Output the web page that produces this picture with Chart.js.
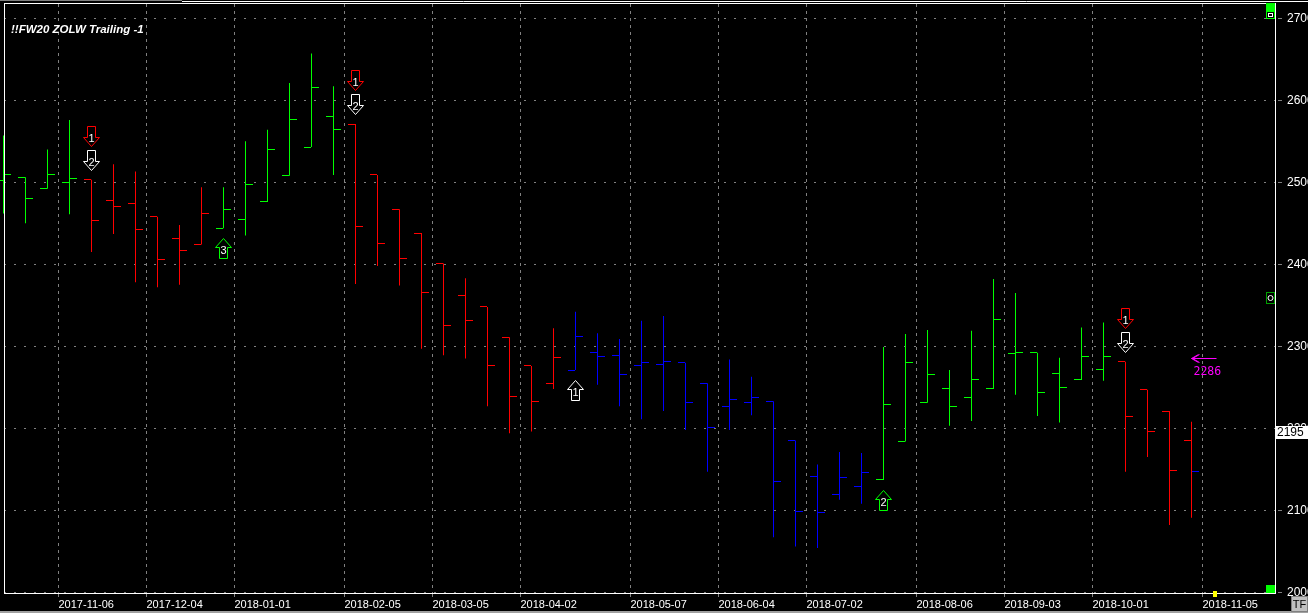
<!DOCTYPE html>
<html>
<head>
<meta charset="utf-8">
<script src="https://cdn.jsdelivr.net/npm/chart.js@4/dist/chart.umd.min.js"></script>
<style>
html,body{margin:0;padding:0;background:#000;overflow:hidden}
#wrap{position:relative;width:1308px;height:613px}
</style>
</head>
<body>
<div id="wrap"><canvas id="c"></canvas></div>
<script>
// ---------- data ----------
const chartTitle = '!!FW20 ZOLW Trailing -1';
const weeks = ['2017-10-16','2017-10-23','2017-10-30','2017-11-06','2017-11-13','2017-11-20','2017-11-27',
 '2017-12-04','2017-12-11','2017-12-18','2017-12-25','2018-01-01','2018-01-08','2018-01-15','2018-01-22',
 '2018-01-29','2018-02-05','2018-02-12','2018-02-19','2018-02-26','2018-03-05','2018-03-12','2018-03-19',
 '2018-03-26','2018-04-02','2018-04-09','2018-04-16','2018-04-23','2018-04-30','2018-05-07','2018-05-14',
 '2018-05-21','2018-05-28','2018-06-04','2018-06-11','2018-06-18','2018-06-25','2018-07-02','2018-07-09',
 '2018-07-16','2018-07-23','2018-07-30','2018-08-06','2018-08-13','2018-08-20','2018-08-27','2018-09-03',
 '2018-09-10','2018-09-17','2018-09-24','2018-10-01','2018-10-08','2018-10-15','2018-10-22','2018-10-29',
 '2018-11-05'];
const openP  = [2502,2506,2492,2500,2503,2478,2474,2458,2431,2424,2444,2455,2476,2508,2543,2580,2571,2509,2467,2438,2401,2362,2348,2311,2276,2255,2271,2292,2289,2277,2278,2280,2255,2227,2231,2233,2185,2141,2119,2129,2137,2184,2231,2248,2237,2248,2291,2292,2267,2259,2272,2281,2247,2221,2185];
const highP  = [2557,2506,2540,2576,2503,2522,2513,2458,2448,2494,2494,2550,2564,2621,2657,2617,2571,2509,2467,2438,2401,2383,2348,2311,2276,2322,2342,2316,2309,2331,2337,2280,2255,2284,2263,2233,2185,2156,2171,2170,2299,2315,2320,2271,2319,2382,2365,2292,2286,2323,2329,2281,2247,2221,2208];
const lowP   = [2462,2450,2492,2461,2415,2437,2378,2372,2375,2424,2444,2435,2476,2508,2543,2509,2376,2398,2374,2297,2289,2285,2227,2194,2196,2248,2271,2253,2227,2211,2221,2198,2147,2198,2216,2067,2056,2054,2113,2108,2137,2184,2231,2203,2209,2248,2241,2215,2207,2259,2258,2147,2165,2082,2091];
const closeP = [2509,2480,2509,2504,2453,2470,2442,2406,2417,2462,2467,2497,2540,2577,2616,2564,2446,2425,2407,2365,2325,2332,2276,2239,2233,2286,2312,2287,2265,2280,2281,2231,2201,2235,2237,2135,2099,2097,2140,2146,2229,2280,2266,2226,2259,2333,2293,2244,2250,2287,2288,2214,2196,2148,2147];
// trend state of each bar: 1 long, -1 short, 0 flat
const trend  = [1,1,1,1,-1,-1,-1,-1,-1,-1,1,1,1,1,1,1,-1,-1,-1,-1,-1,-1,-1,-1,-1,-1,0,0,0,0,0,0,0,0,0,0,0,0,0,0,1,1,1,1,1,1,1,1,1,1,1,-1,-1,-1,-1];
const lastCloseTrend = 0;
const xTickLabels = ['2017-11-06','2017-12-04','2018-01-01','2018-02-05','2018-03-05','2018-04-02','2018-05-07',
 '2018-06-04','2018-07-02','2018-08-06','2018-09-03','2018-10-01','2018-11-05'];
const yTickValues = [2000,2100,2200,2300,2400,2500,2600,2700];
// signals
const signalBars  = [4,4,10,16,16,26,40,51,51];
const signalDirs  = ['down','down','up','down','down','up','up','down','down'];
const signalTypes = ['short','exit','long','short','exit','exit','long','short','exit'];
const signalStack = [1,0,0,1,0,0,0,1,0];
const signalTexts = ['1','2','3','1','2','1','2','1','2'];
const targetLevel = 2286;
const targetBar = 54;
const lastPrice = 2195;

// ---------- styles ----------
const TREND_COLORS = {'1':'#00ff00','-1':'#ff0000','0':'#0000ff'};
const SIGNAL_COLORS = {short:'#ff0000', exit:'#ffffff', long:'#00ff00'};
const FONT = '"Liberation Sans", Arial, sans-serif';

function tickImg(color, side){
  const c = document.createElement('canvas');
  c.width = 15; c.height = 1;
  const g = c.getContext('2d');
  g.fillStyle = color;
  g.fillRect(side === 'open' ? 0 : 8, 0, 7, 1);
  return c;
}
const openImgs = {}, closeImgs = {};
for (const k in TREND_COLORS){ openImgs[k] = tickImg(TREND_COLORS[k],'open'); closeImgs[k] = tickImg(TREND_COLORS[k],'close'); }
const closeTrend = trend.map((t,i) => i === trend.length - 1 ? lastCloseTrend : t);
const idx = openP.map((_, i) => i);

function arrowPath(ctx, cx, tip, d){ // d=1: tip at bottom (down arrow), d=-1: tip at top
  ctx.beginPath();
  ctx.moveTo(cx-4, tip - d*20);
  ctx.lineTo(cx+4, tip - d*20);
  ctx.lineTo(cx+4, tip - d*9);
  ctx.lineTo(cx+8, tip - d*9);
  ctx.lineTo(cx, tip);
  ctx.lineTo(cx-8, tip - d*9);
  ctx.lineTo(cx-4, tip - d*9);
  ctx.closePath();
}

const decor = {
  id: 'decor',
  beforeDatasetsDraw(chart){ chart.ctx.imageSmoothingEnabled = false; },
  afterDatasetsDraw(chart){
    const ctx = chart.ctx, x = chart.scales.x, y = chart.scales.y;
    ctx.save();
    ctx.lineWidth = 1;
    for (let s = 0; s < signalBars.length; s++){
      const i = signalBars[s];
      const cx = x.getPixelForValue(i);
      const color = SIGNAL_COLORS[signalTypes[s]];
      let top;
      if (signalDirs[s] === 'down'){
        const hp = Math.round(y.getPixelForValue(highP[i]));
        const tip = hp - 10 - signalStack[s]*24 + 0.5;
        top = tip - 20;
        arrowPath(ctx, cx, tip, 1);
      } else {
        const lp = Math.round(y.getPixelForValue(lowP[i]));
        const tip = lp + 10 + signalStack[s]*24 + 0.5;
        top = tip;
        arrowPath(ctx, cx, tip, -1);
      }
      ctx.fillStyle = '#000'; ctx.fill();
      ctx.strokeStyle = color; ctx.stroke();
      ctx.fillStyle = '#fff';
      ctx.font = '11px ' + FONT;
      ctx.textAlign = 'center'; ctx.textBaseline = 'middle';
      ctx.fillText(signalTexts[s], cx, top + 12);
    }
    // target arrow
    const tx = x.getPixelForValue(targetBar);
    const ty = Math.round(y.getPixelForValue(targetLevel)) + 0.5;
    ctx.strokeStyle = '#ff00ff';
    ctx.beginPath();
    ctx.moveTo(tx, ty); ctx.lineTo(tx + 25, ty);
    ctx.moveTo(tx + 7, ty - 4); ctx.lineTo(tx, ty); ctx.lineTo(tx + 7, ty + 4);
    ctx.moveTo(tx + 8, ty - 4); ctx.lineTo(tx + 1, ty); ctx.lineTo(tx + 8, ty + 4);
    ctx.stroke();
    ctx.fillStyle = '#ff00ff';
    ctx.font = '11.5px "DejaVu Sans Mono", monospace';
    ctx.textAlign = 'left'; ctx.textBaseline = 'middle';
    ctx.fillText(String(targetLevel), tx + 2, ty + 14);
    ctx.restore();
  },
  afterDraw(chart){
    const ctx = chart.ctx, y = chart.scales.y, a = chart.chartArea;
    ctx.save();
    ctx.imageSmoothingEnabled = true;
    // frame lines
    ctx.strokeStyle = '#ffffff'; ctx.lineWidth = 1;
    ctx.beginPath();
    ctx.moveTo(4.5, a.top); ctx.lineTo(4.5, a.bottom + 1);
    ctx.moveTo(4, 3.5); ctx.lineTo(1276, 3.5);
    ctx.moveTo(182, 1.5); ctx.lineTo(1308, 1.5);
    ctx.stroke();
    ctx.fillStyle = '#808080'; ctx.fillRect(0, 0, 182, 1);
    ctx.fillStyle = '#a0a0a0'; ctx.fillRect(0, 611, 1308, 2);
    // title
    ctx.fillStyle = '#ffffff';
    ctx.font = 'italic bold 11.5px ' + FONT;
    ctx.textAlign = 'left'; ctx.textBaseline = 'middle';
    ctx.fillText(chartTitle, 11, 30);
    // last price box
    const py = Math.round(y.getPixelForValue(lastPrice));
    ctx.fillStyle = '#ffffff';
    ctx.fillRect(1276, py - 6, 32, 13);
    ctx.fillStyle = '#000000';
    ctx.font = '12px ' + FONT;
    ctx.textBaseline = 'middle';
    ctx.fillText(String(lastPrice), 1277, py + 1);
    // right side handles
    ctx.fillStyle = '#00ff00'; ctx.fillRect(1266, 3, 9, 16);
    ctx.fillStyle = '#000'; ctx.fillRect(1267, 12, 7, 6);
    ctx.strokeStyle = '#fff'; ctx.strokeRect(1268.5, 13.5, 4, 3);
    ctx.fillStyle = '#00a000'; ctx.fillRect(1266, 292, 9, 12);
    ctx.fillStyle = '#000'; ctx.fillRect(1267, 293, 7, 10);
    ctx.strokeStyle = '#fff'; ctx.beginPath(); ctx.arc(1270.5, 298, 2.5, 0, Math.PI*2); ctx.stroke();
    ctx.fillStyle = '#00ff00'; ctx.fillRect(1266, 585, 9, 8);
    ctx.fillStyle = '#ffff00'; ctx.fillRect(1213, 591, 4, 6);
    // TF box
    ctx.fillStyle = '#c0c0c0'; ctx.fillRect(1292, 597, 15, 14);
    ctx.strokeStyle = '#808080'; ctx.strokeRect(1291.5, 596.5, 16, 15);
    ctx.fillStyle = '#000'; ctx.font = '11px ' + FONT; ctx.textAlign = 'center';
    ctx.fillText('TF', 1299.5, 604.5);
    ctx.restore();
  }
};

const PX = 22; // pixels per weekly slot
new Chart(document.getElementById('c'), {
  type: 'scatter',
  data: {
    datasets: [
      { type: 'bar', order: 5,
        data: idx.map(i => ({x: i, y: [lowP[i], highP[i]]})),
        backgroundColor: idx.map(i => TREND_COLORS[trend[i]]),
        barThickness: 1, inflateAmount: 0, borderWidth: 0, clip: false },
      { type: 'scatter', order: 1,
        data: idx.map(i => ({x: i, y: openP[i]})),
        pointStyle: idx.map(i => openImgs[trend[i]]),
        pointRadius: 4, pointBorderWidth: 0, clip: false },
      { type: 'scatter', order: 1,
        data: idx.map(i => ({x: i, y: closeP[i]})),
        pointStyle: idx.map(i => closeImgs[closeTrend[i]]),
        pointRadius: 4, pointBorderWidth: 0, clip: false }
    ]
  },
  options: {
    responsive: true, maintainAspectRatio: false, animation: false, events: [],
    layout: { padding: { left: 4, top: 3, right: 0, bottom: 0 } },
    plugins: { legend: { display: false }, tooltip: { enabled: false }, title: { display: false } },
    scales: {
      x: {
        type: 'linear', offset: false, bounds: 'data',
        min: 0.5 / PX, max: 0.5 / PX + 1271 / PX,
        afterBuildTicks: s => { s.ticks = xTickLabels.map(d => ({ value: weeks.indexOf(d) - 0.5 })); },
        afterFit: s => { s.height = 20; s.paddingLeft = 0; s.paddingRight = 0; s.paddingTop = 0; s.paddingBottom = 0; },
        ticks: { autoSkip: false, maxRotation: 0, minRotation: 0, align: 'start', padding: 1,
                 color: '#ffffff', font: { family: FONT, size: 11 },
                 callback: (v, i) => xTickLabels[i] },
        grid: { color: '#808080', lineWidth: 1, offset: false, drawTicks: true, tickLength: 4,
                tickColor: '#808080', tickBorderDash: [3, 4], borderDash: [3, 4] },
        border: { display: true, color: '#ffffff', width: 1, dash: [3, 4] }
      },
      y: {
        type: 'linear', position: 'right', beginAtZero: false,
        min: 1999.15, max: 2717.4,
        afterBuildTicks: s => { s.ticks = yTickValues.map(v => ({ value: v })); },
        afterFit: s => { s.width = 33; s.paddingTop = 0; s.paddingBottom = 0; s.paddingLeft = 0; s.paddingRight = 0; },
        ticks: { color: '#ffffff', padding: 5, font: { family: FONT, size: 12 }, callback: v => String(v) },
        grid: { color: '#808080', lineWidth: 1, drawTicks: true, tickLength: 7,
                tickColor: '#808080', tickBorderDash: [0, 2, 5, 30], borderDash: [2, 8] },
        border: { display: true, color: '#ffffff', width: 1, dash: [2, 8] }
      }
    }
  },
  plugins: [decor]
});
</script>
</body>
</html>
